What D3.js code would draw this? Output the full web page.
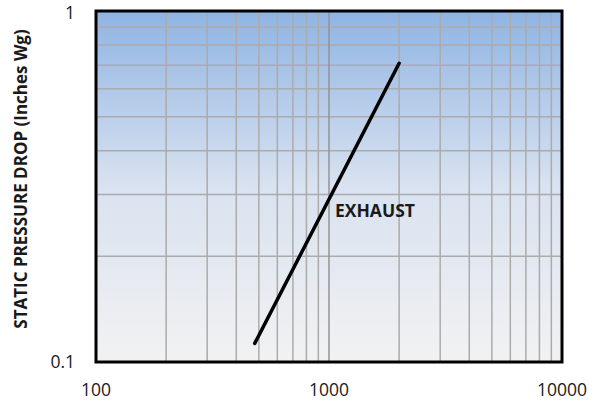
<!DOCTYPE html>
<html>
<head>
<meta charset="utf-8">
<script src="https://cdn.jsdelivr.net/npm/d3@7"></script>
<style>
  body { margin: 0; background: #fff; }
  text { font-family: "Open Sans", "Noto Sans", sans-serif; fill: #1a1a1a; }
</style>
</head>
<body>
<div id="chart"></div>
<script>
// data
var flowCfm = [480, 2000],
	pressureIn = [0.113, 0.71],
	xTickLabels = [100, 1000, 10000],
	yTickLabels = [0.1, 1],
	seriesName = "EXHAUST",
	yTitle = "STATIC PRESSURE DROP (Inches Wg)";

var width = 601,
	height = 403,
	margin = {top: 11, right: 39, bottom: 41, left: 96},
	iw = width - margin.left - margin.right,
	ih = height - margin.top - margin.bottom;

var svg = d3.select("#chart").append("svg")
	.attr("width", width)
	.attr("height", height);

var defs = svg.append("defs");
var grad = defs.append("linearGradient")
	.attr("id", "bg")
	.attr("x1", 0).attr("y1", 0).attr("x2", 0).attr("y2", 1);
grad.append("stop").attr("offset", "0%").attr("stop-color", "#8fb4e3");
grad.append("stop").attr("offset", "50%").attr("stop-color", "#d9e2f0");
grad.append("stop").attr("offset", "100%").attr("stop-color", "#f2f2f2");

var x = d3.scaleLog().domain([100, 10000]).range([0, iw]),
	y = d3.scaleLog().domain([0.1, 1]).range([ih, 0]);

var g = svg.append("g")
	.attr("transform", "translate(" + margin.left + "," + margin.top + ")");

g.append("rect")
	.attr("width", iw)
	.attr("height", ih)
	.attr("fill", "url(#bg)");

// grid
var xGrid = x.ticks().filter(function(d) { return d > 100 && d < 10000; }),
	yGrid = y.ticks().filter(function(d) { return d > 0.1 && d < 1; });

g.append("g")
	.selectAll("line")
	.data(yGrid)
	.join("line")
	.attr("x1", 0)
	.attr("x2", iw)
	.attr("y1", function(d) { return y(d); })
	.attr("y2", function(d) { return y(d); })
	.attr("stroke", "#ababab")
	.attr("stroke-width", 1.5);

g.append("g")
	.selectAll("line")
	.data(xGrid)
	.join("line")
	.attr("x1", function(d) { return x(d); })
	.attr("x2", function(d) { return x(d); })
	.attr("y1", 0)
	.attr("y2", ih)
	.attr("stroke", function(d) { return d === 1000 ? "#939393" : "#ababab"; })
	.attr("stroke-width", 1.5);

// series
var pts = flowCfm.map(function(d, i) { return [d, pressureIn[i]]; });
var line = d3.line()
	.x(function(d) { return x(d[0]); })
	.y(function(d) { return y(d[1]); });

g.append("path")
	.datum(pts)
	.attr("fill", "none")
	.attr("stroke", "#000")
	.attr("stroke-width", 3.5)
	.attr("stroke-linecap", "round")
	.attr("d", line);

g.append("text")
	.attr("x", x(1000) + 6)
	.attr("y", y(0.27) + 6)
	.attr("font-size", 17.5)
	.attr("font-weight", "bold")
	.text(seriesName);

// frame
g.append("rect")
	.attr("width", iw)
	.attr("height", ih)
	.attr("fill", "none")
	.attr("stroke", "#000")
	.attr("stroke-width", 3);

// axes labels
g.append("g")
	.selectAll("text")
	.data(xTickLabels)
	.join("text")
	.attr("x", function(d) { return x(d); })
	.attr("y", ih + 34)
	.attr("text-anchor", "middle")
	.attr("font-size", 17.5)
	.text(function(d) { return d; });

g.append("g")
	.selectAll("text")
	.data(yTickLabels)
	.join("text")
	.attr("x", -21)
	.attr("y", function(d) { return d === 1 ? y(d) + 8 : y(d) + 6; })
	.attr("text-anchor", "end")
	.attr("font-size", 17.5)
	.text(function(d) { return d; });

svg.append("text")
	.attr("transform", "translate(27,179) rotate(-90)")
	.attr("text-anchor", "middle")
	.attr("font-size", 17)
	.attr("font-weight", "bold")
	.text(yTitle);
</script>
</body>
</html>
